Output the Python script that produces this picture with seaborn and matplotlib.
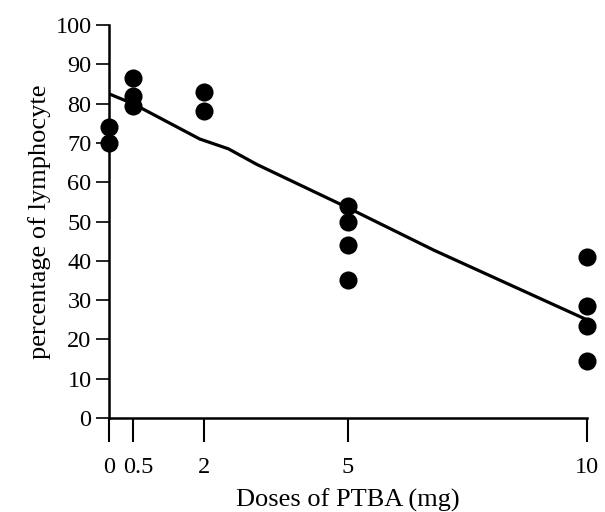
import numpy as np
import pandas as pd
import matplotlib
matplotlib.use('Agg')
import matplotlib.pyplot as plt
import matplotlib.transforms as mtransforms
import seaborn as sns

dose = [0, 0, 0.5, 0.5, 0.5, 2, 2, 5, 5, 5, 5, 10, 10, 10, 10]
lymphocyte_pct = [74, 70, 86.5, 82, 79.5, 83, 78, 54, 50, 44, 35, 41, 28.5, 23.5, 14.5]

# Trend line as drawn in the figure
trend_dose = [0, 0.5, 1.9, 2.5, 2.8, 3.1, 5, 6.8, 10]
trend_pct = [82.5, 80, 71, 68.5, 66.5, 64.5, 53.5, 42.7, 25]

x_ticks = [0, 0.5, 2, 5, 10]
x_ticklabels = ['0', '0.5', '2', '5', '10']
y_ticks = list(range(0, 101, 10))

df = pd.DataFrame({'dose': dose, 'pct': lymphocyte_pct})
trend = pd.DataFrame({'dose': trend_dose, 'pct': trend_pct})

sns.set_theme(style='ticks')
plt.rcParams['font.family'] = ['Liberation Serif', 'DejaVu Serif']

fig = plt.figure(figsize=(6.05, 5.12), dpi=100)
ax = fig.add_axes([0.180, 0.1836, 0.790, 0.7675])

sns.lineplot(data=trend, x='dose', y='pct', color='black', linewidth=2.3,
             sort=False, ax=ax)
sns.scatterplot(data=df, x='dose', y='pct', color='black', s=170,
                edgecolor='black', linewidth=0, ax=ax, clip_on=False, zorder=3)

ax.set_xlim(0, 10)
ax.set_ylim(0, 100)
ax.set_xticks(x_ticks)
ax.set_xticklabels(x_ticklabels)
ax.set_yticks(y_ticks)

sns.despine(ax=ax)
for side in ['left', 'bottom']:
    ax.spines[side].set_linewidth(1.8)
    ax.spines[side].set_color('black')

ax.tick_params(axis='y', length=9.5, width=1.2, pad=3, labelsize=17.5, colors='black')
ax.tick_params(axis='x', length=17, width=1.5, pad=11, labelsize=17.5, colors='black')

# nudge the crowded "0.5" label to the right, like the original
shift = mtransforms.ScaledTranslation(6 / 100, 0, fig.dpi_scale_trans)
lbl = ax.get_xticklabels()[1]
lbl.set_transform(lbl.get_transform() + shift)

ax.set_xlabel('Doses of PTBA (mg)', fontsize=19, color='black', labelpad=8)
ax.set_ylabel('percentage of lymphocyte', fontsize=19, color='black', labelpad=3)

fig.savefig('out.png', dpi=100)
